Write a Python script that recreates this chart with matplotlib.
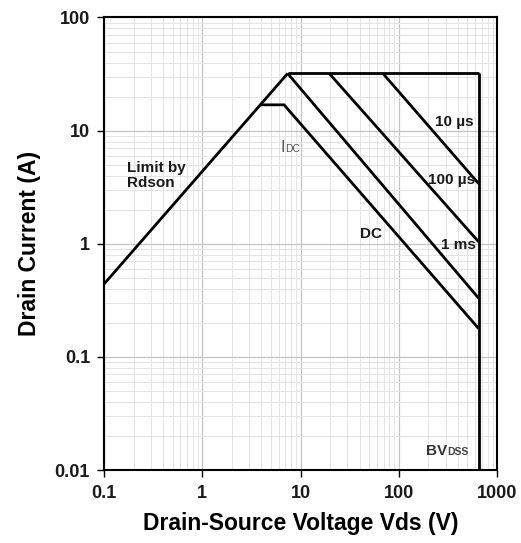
import numpy as np
import matplotlib
matplotlib.use("Agg")
import matplotlib.pyplot as plt

plt.rcParams['font.family'] = ['Liberation Sans', 'DejaVu Sans']

# Safe operating area boundaries (Vds in V, Id in A)
rdson_v = [0.1, 7.4]
rdson_i = [0.44, 32]
plateau_v = [7.4, 650]
plateau_i = [32, 32]
bv_v = [650, 650]
bv_i = [32, 0.01]
dc_v = [3.9, 6.8, 650]
dc_i = [16.9, 16.9, 0.178]
ms1_v = [7.4, 650]
ms1_i = [32, 0.33]
us100_v = [19.6, 650]
us100_i = [32, 1.04]
us10_v = [69, 650]
us10_i = [32, 3.4]

xticks = [0.1, 1, 10, 100, 1000]
xticklabels = ["0.1", "1", "10", "100", "1000"]
yticks = [0.01, 0.1, 1, 10, 100]
yticklabels = ["0.01", "0.1", "1", "10", "100"]

fig = plt.figure(figsize=(5.21, 5.43), dpi=100)
ax = fig.add_axes([0.1996, 0.1344, 0.7544, 0.8334])
ax.set_xscale("log")
ax.set_yscale("log")
ax.set_xlim(0.1, 1000)
ax.set_ylim(0.01, 100)

lw = 2.0
for v, i in [(rdson_v, rdson_i), (plateau_v, plateau_i), (bv_v, bv_i),
             (dc_v, dc_i), (ms1_v, ms1_i), (us100_v, us100_i), (us10_v, us10_i)]:
    ax.plot(v, i, color="black", lw=lw, solid_capstyle="butt", zorder=3)

ax.grid(True, which="major", color="#c4c4c4", lw=0.9)
ax.grid(True, which="minor", color="#e4e4e4", lw=0.7)
ax.set_axisbelow(True)

ax.set_xticks(xticks)
ax.set_xticklabels(xticklabels)
ax.set_yticks(yticks)
ax.set_yticklabels(yticklabels)
ax.tick_params(which="major", length=5, width=1, direction="out", labelsize=13)
ax.tick_params(axis="x", pad=6)
ax.tick_params(axis="y", pad=5)
ax.tick_params(which="minor", length=0)
for lab in ax.get_xticklabels() + ax.get_yticklabels():
    lab.set_fontweight("bold")
    lab.set_color("#1a1a1a")

for s in ax.spines.values():
    s.set_linewidth(1.5)

ax.set_xlabel("Drain-Source Voltage Vds (V)", fontsize=16.5, fontweight="bold", labelpad=7)
ax.set_ylabel("Drain Current (A)", fontsize=16.5, fontweight="bold", labelpad=10)

tk = dict(fontsize=11, fontweight="bold", color="#1a1a1a", va="center", ha="left")
ax.text(0.171, 4.0, "Limit by\nRdson", linespacing=1.1, **tk)
ax.text(233, 12.0, "10 µs", **tk)
ax.text(199, 3.65, "100 µs", **tk)
ax.text(272, 0.97, "1 ms", **tk)
ax.text(40.2, 1.23, "DC", **tk)

ax.text(6.3, 6.5, "I", fontsize=11.5, color="#555555", va="baseline", ha="left")
ax.annotate("DC", xy=(6.3, 6.5), xytext=(3, 0), textcoords="offset points",
            fontsize=7.5, color="#555555", va="baseline", ha="left")
ax.text(189, 0.0135, "BV", fontsize=11, fontweight="bold", color="#333333", va="baseline", ha="left")
ax.annotate("DSS", xy=(189, 0.0135), xytext=(15, 0), textcoords="offset points",
            fontsize=7.5, fontweight="bold", color="#444444", va="baseline", ha="left")

fig.savefig("out.png", dpi=100)
